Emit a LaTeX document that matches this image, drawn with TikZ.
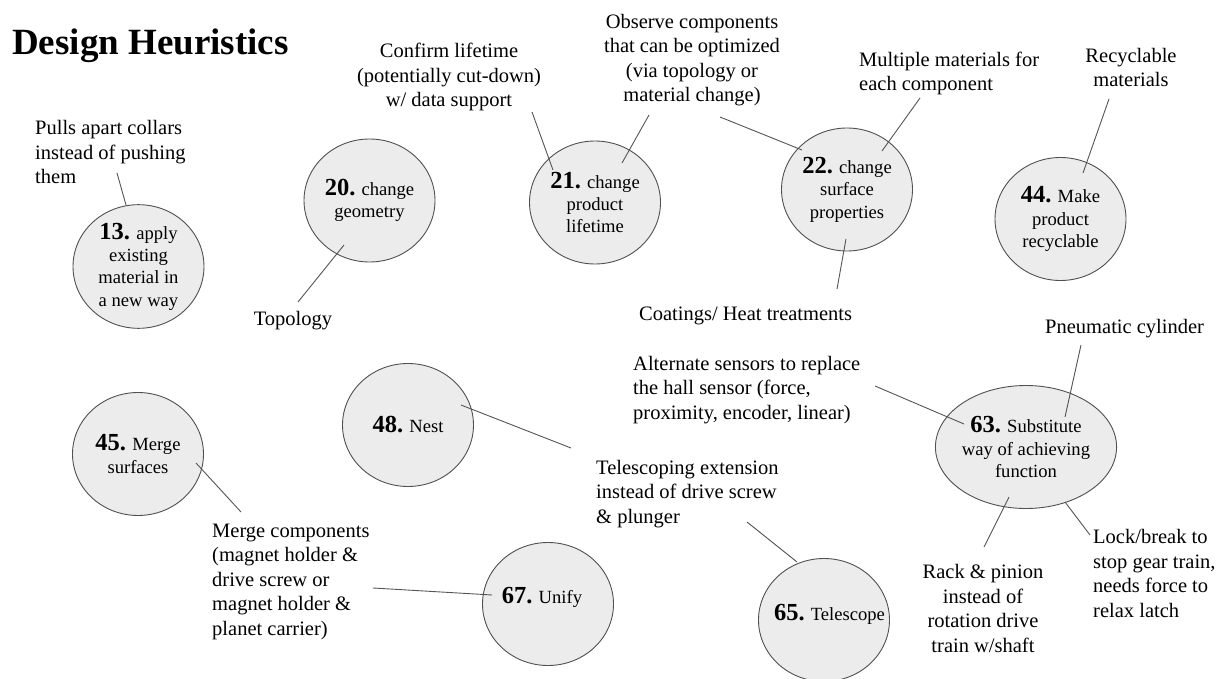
\documentclass[tikz,border=0pt]{standalone}
\usepackage{fontspec}
\setmainfont{Liberation Serif}
\usetikzlibrary{shapes.geometric,calc}

\definecolor{circfill}{HTML}{ECECEC}
\definecolor{circedge}{HTML}{505050}
\definecolor{linkgray}{HTML}{555555}

% bold heuristic number inside a circle
\newcommand{\hnum}[1]{{\fontsize{24.5}{22.4}\selectfont\bfseries #1}}

\tikzset{
  heur/.style={ellipse, draw=circedge, fill=circfill, line width=0.9pt,
    minimum width=131pt, minimum height=123pt, inner sep=0pt, align=center,
    font=\fontsize{18.6}{22.4}\selectfont},
  note/.style={inner sep=0pt, font=\fontsize{20.5}{24.5}\selectfont},
  link/.style={draw=linkgray, line width=0.9pt},
}

\begin{document}
\begin{tikzpicture}[x=1pt, y=-1pt]
\useasboundingbox[fill=white] (0,0) rectangle (1224,679);

% title
\node[inner sep=0pt, anchor=base west, font=\fontsize{37}{40}\selectfont\bfseries]
  (title) at (12,55) {Design Heuristics};

% heuristic circles
\node[heur] (c13) at (138.5,266.5) {\hnum{13.} apply\\existing\\material in\\a new way};
\node[heur] (c20) at (369.5,200.5) {\hnum{20.} change\\geometry};
\node[heur] (c21) at (595,202.5) {\hnum{21.} change\\product\\lifetime};
\node[heur] (c22) at (847,189.5) {\hnum{22.} change\\surface\\properties};
\node[heur] (c44) at (1060.5,219) {\hnum{44.} Make\\product\\recyclable};
\node[heur] (c45) at (138,454) {\hnum{45.} Merge\\surfaces};
\node[heur] (c48) at (408,425) {\hnum{48.} Nest};
\node[heur] (c67) at (548,604) {};
\node[heur] (c65) at (824,620) {};
\node[heur] (c63) at (1026,447) {\hnum{63.} Substitute\\way of achieving\\function};
\node[inner sep=0pt, font=\fontsize{18.6}{22.4}\selectfont, anchor=base]
  (l67) at (542,603) {\hnum{67.} Unify};
\node[inner sep=0pt, font=\fontsize{18.6}{22.4}\selectfont, anchor=base]
  (l65) at (829.5,620) {\hnum{65.} Telescope};

% notes (multi-line notes are placed by the baseline of their last line)
\node[note, anchor=base west, align=left] (n13) at (35,184)
  {Pulls apart collars\\instead of pushing\\them};
\node[note, anchor=base] (n20) at (293,325) {Topology};
\node[note, anchor=base, align=center] (n21a) at (449,107)
  {Confirm lifetime\\(potentially cut-down)\\w/ data support};
\node[note, anchor=base, align=center] (n21b) at (692,102)
  {Observe components\\that can be optimized\\(via topology or\\material change)};
\node[note, anchor=base west, align=left] (n22a) at (859,91)
  {Multiple materials for\\each component};
\node[note, anchor=base, align=center] (n44) at (1131,87)
  {Recyclable\\materials};
\node[note, anchor=base west] (n22b) at (639,320) {Coatings/ Heat treatments};
\node[note, anchor=base west] (n63a) at (1045,333) {Pneumatic cylinder};
\node[note, anchor=base west, align=left] (n63b) at (633,419)
  {Alternate sensors to replace\\the hall sensor (force,\\proximity, encoder, linear)};
\node[note, anchor=base west, align=left] (n65) at (596,523)
  {Telescoping extension\\instead of drive screw\\\& plunger};
\node[note, anchor=base west, align=left] (n67) at (212,635)
  {Merge components\\(magnet holder \&\\drive screw or\\magnet holder \&\\planet carrier)};
\node[note, anchor=base, align=center] (n63c) at (983,652)
  {Rack \& pinion\\instead of\\rotation drive\\train w/shaft};
\node[note, anchor=base west, align=left] (n63d) at (1093,617)
  {Lock/break to\\stop gear train,\\needs force to\\relax latch};

% free ends of the connectors, next to their notes
\coordinate (e13) at (117,173);
\coordinate (e20) at (298,302);
\coordinate (e21a) at (532,112);
\coordinate (e21b) at (649,115);
\coordinate (e22a) at (720,117);
\coordinate (e22b) at (920,98);
\coordinate (e22c) at (837,289);
\coordinate (e44) at (1109,99);
\coordinate (e45) at (241,512);
\coordinate (e48) at (571,448);
\coordinate (e67) at (373,588);
\coordinate (e65) at (747,522);
\coordinate (e63a) at (875,386);
\coordinate (e63b) at (1081,345);
\coordinate (e63c) at (984,547);
\coordinate (e63d) at (1090,535);

% connectors
\draw[link] (e13) -- ($(c13.center)+(-12.5,-61.5)$);
\draw[link] ($(c20.center)+(-25.5,44.5)$) -- (e20);
\draw[link] (e21a) -- ($(c21.center)+(-42,-32.5)$);
\draw[link] (e21b) -- ($(c21.center)+(27,-39.5)$);
\draw[link] (e22a) -- ($(c22.center)+(-45,-39.5)$);
\draw[link] (e22b) -- ($(c22.center)+(35,-38.5)$);
\draw[link] ($(c22.center)+(-1,49.5)$) -- (e22c);
\draw[link] (e44) -- ($(c44.center)+(22.5,-46)$);
\draw[link] ($(c45.center)+(58,9)$) -- (e45);
\draw[link] ($(c48.center)+(53,-20)$) -- (e48);
\draw[link] (e67) -- ($(c67.center)+(-56,-9)$);
\draw[link] (e65) -- ($(c65.center)+(-27,-58)$);
\draw[link] (e63a) -- ($(c63.center)+(-62,-23)$);
\draw[link] (e63b) -- ($(c63.center)+(39,-30)$);
\draw[link] ($(c63.center)+(-17,50)$) -- (e63c);
\draw[link] ($(c63.center)+(39,55)$) -- (e63d);
\end{tikzpicture}
\end{document}
